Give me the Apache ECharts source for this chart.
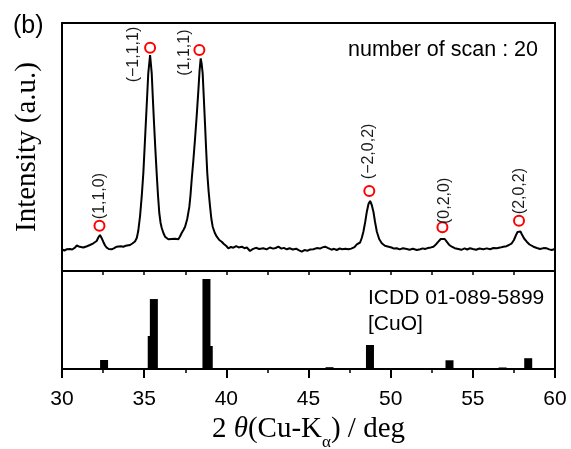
<!DOCTYPE html>
<html>
<head>
<meta charset="utf-8">
<script src="https://cdn.jsdelivr.net/npm/echarts@6/dist/echarts.min.js"></script>
<style>
  html, body { margin: 0; padding: 0; background: #fff; }
  #chart { width: 571px; height: 449px; }
</style>
</head>
<body>
<div id="chart"></div>
<script>
// Measured XRD scan: [2θ (deg), intensity (a.u.)]
const scanPoints = [
  [30.00, 21.5], [30.15, 20.5], [30.30, 21.8], [30.49, 22.0], [30.62, 21.5], [30.79, 23.3],
  [30.90, 25.5], [30.99, 26.7], [31.08, 24.2], [31.20, 22.7], [31.30, 23.5], [31.40, 24.3],
  [31.52, 24.8], [31.60, 24.0], [31.70, 26.0], [31.81, 26.5], [31.91, 27.7], [32.01, 28.5],
  [32.11, 30.0], [32.21, 33.5], [32.31, 36.0], [32.41, 33.0], [32.51, 29.3], [32.62, 25.5],
  [32.72, 23.3], [32.85, 22.0], [33.02, 21.7], [33.15, 22.6], [33.25, 24.2], [33.33, 24.3],
  [33.45, 23.6], [33.58, 24.8], [33.73, 24.3], [33.88, 25.2], [34.00, 24.8], [34.14, 26.0],
  [34.28, 27.5], [34.44, 29.5], [34.55, 33.0], [34.64, 40.0], [34.75, 55.0], [34.85, 74.3],
  [34.95, 98.0], [35.05, 131.0], [35.15, 164.3], [35.25, 197.7], [35.36, 216.0], [35.46, 197.7],
  [35.53, 172.0], [35.60, 148.0], [35.68, 122.0], [35.76, 98.0], [35.84, 76.0], [35.92, 58.0],
  [36.00, 48.0], [36.07, 43.0], [36.17, 38.0], [36.27, 34.3], [36.37, 32.5], [36.47, 31.7],
  [36.57, 32.6], [36.67, 32.0], [36.77, 32.7], [36.87, 32.2], [36.97, 33.0], [37.08, 31.7],
  [37.18, 34.5], [37.29, 38.3], [37.39, 41.0], [37.49, 44.3], [37.62, 52.0], [37.75, 64.3],
  [37.82, 76.0], [37.89, 91.0], [37.99, 110.0], [38.09, 131.0], [38.20, 156.0], [38.30, 181.0],
  [38.37, 200.0], [38.44, 212.7], [38.50, 207.0], [38.56, 197.7], [38.63, 173.0], [38.70, 148.0],
  [38.77, 122.0], [38.84, 98.0], [38.92, 80.0], [39.01, 64.3], [39.09, 52.0], [39.17, 44.3],
  [39.30, 38.0], [39.42, 34.3], [39.57, 31.0], [39.72, 29.3], [39.85, 27.0], [40.00, 25.0],
  [40.12, 22.7], [40.28, 24.0], [40.43, 23.3], [40.60, 24.8], [40.75, 23.6], [40.94, 24.3],
  [41.10, 22.8], [41.25, 23.5], [41.44, 20.0], [41.60, 21.8], [41.80, 23.2], [42.00, 22.0],
  [42.25, 22.7], [42.45, 21.6], [42.65, 23.5], [42.85, 22.4], [43.00, 23.0], [43.17, 24.3],
  [43.35, 22.4], [43.50, 23.1], [43.68, 21.7], [43.85, 22.8], [44.05, 21.5], [44.25, 22.3],
  [44.40, 20.8], [44.59, 19.3], [44.75, 20.9], [44.95, 20.3], [45.10, 21.5], [45.30, 21.7],
  [45.50, 22.9], [45.70, 22.4], [45.85, 23.6], [46.01, 24.3], [46.20, 22.8], [46.40, 21.3],
  [46.55, 22.2], [46.72, 21.0], [46.90, 22.5], [47.05, 21.8], [47.25, 22.3], [47.43, 21.7],
  [47.60, 22.4], [47.80, 23.9], [47.94, 26.7], [48.05, 27.5], [48.14, 28.5], [48.24, 33.0],
  [48.34, 39.3], [48.45, 49.0], [48.55, 59.3], [48.65, 67.0], [48.75, 70.0], [48.85, 66.0],
  [48.95, 59.3], [49.05, 49.0], [49.16, 39.3], [49.30, 32.0], [49.46, 27.7], [49.65, 25.2],
  [49.87, 24.3], [50.05, 23.5], [50.20, 22.4], [50.37, 22.7], [50.55, 21.6], [50.75, 22.8],
  [50.98, 22.0], [51.15, 21.3], [51.35, 22.2], [51.59, 21.0], [51.80, 21.8], [51.95, 22.6],
  [52.09, 22.0], [52.25, 22.9], [52.45, 23.6], [52.60, 24.3], [52.75, 26.5], [52.90, 29.3],
  [53.05, 32.0], [53.17, 33.3], [53.29, 32.0], [53.41, 29.3], [53.55, 26.3], [53.72, 24.3],
  [53.90, 22.8], [54.12, 22.0], [54.30, 21.2], [54.50, 22.6], [54.65, 21.5], [54.83, 22.7],
  [55.00, 22.0], [55.20, 21.2], [55.40, 22.5], [55.64, 21.7], [55.85, 22.6], [56.05, 21.8],
  [56.25, 23.0], [56.46, 22.7], [56.65, 23.4], [56.86, 24.3], [57.05, 24.8], [57.20, 26.0],
  [57.37, 27.7], [57.50, 31.0], [57.63, 36.0], [57.72, 39.0], [57.81, 41.0], [57.90, 39.5],
  [57.98, 36.7], [58.12, 32.5], [58.28, 29.3], [58.45, 26.5], [58.69, 24.3], [58.90, 23.0],
  [59.09, 22.0], [59.30, 22.9], [59.50, 22.7], [59.65, 21.6], [59.80, 21.0], [60.00, 22.0]
];

// Indexed CuO reflections marked on the scan
const peakAngles = [32.28, 35.36, 38.36, 48.70, 53.15, 57.81];
const peakMarkLevels = [45.3, 223.3, 221.0, 80.0, 43.7, 50.3];
const peakIndices = ['(1,1,0)', '(\u22121,1,1)', '(1,1,1)', '(\u22122,0,2)', '(0,2,0)', '(2,0,2)'];

// Reference pattern ICDD 01-089-5899 (relative intensities)
const refAngles = [32.56, 35.46, 35.59, 38.79, 38.93, 46.28, 48.74, 53.58, 56.81, 58.37];
const refIntensities = [10, 36.7, 77.8, 100, 25.6, 2, 26.7, 9.7, 1.7, 12];

// Axis range and tick spacing
const angleRange = [30, 60];
const majorStep = 5;
const frameStep = 2.5;

// Label anchor of each index, relative to its circle's box
const labelAnchors = [[6.5, -0.5], [-10.5, 40.6], [-8.8, 31.7], [5.7, -5.8], [8.5, 2.7], [6.5, -0.5]];

const SANS = '"Liberation Sans", Arial, sans-serif';
const SERIF = '"Liberation Serif", "Times New Roman", serif';

const chart = echarts.init(document.getElementById('chart'), null, { renderer: 'canvas' });

const markerData = peakAngles.map((a, i) => ({
  value: [a, peakMarkLevels[i]],
  name: peakIndices[i],
  label: { position: labelAnchors[i] }
}));

const barData = refAngles.map((a, i) => [a, refIntensities[i]]);

const option = {
  animation: false,
  backgroundColor: '#fff',
  grid: [
    { left: 62, top: 23, width: 493, height: 248, show: true, borderColor: '#000', borderWidth: 2,
      backgroundColor: 'rgba(0,0,0,0)', outerBoundsMode: 'none', containLabel: false },
    { left: 62, top: 271, width: 493, height: 98, show: true, borderColor: '#000', borderWidth: 2,
      backgroundColor: 'rgba(0,0,0,0)', outerBoundsMode: 'none', containLabel: false }
  ],
  xAxis: [
    { gridIndex: 0, type: 'value', min: angleRange[0], max: angleRange[1], show: false },
    {
      gridIndex: 1, type: 'value', min: angleRange[0], max: angleRange[1], interval: majorStep,
      position: 'bottom',
      axisLine: { show: true, onZero: false, lineStyle: { color: '#000', width: 2 } },
      axisTick: { show: true, inside: false, length: 9, lineStyle: { color: '#000', width: 2 } },
      minorTick: { show: true, splitNumber: 2, length: 4, lineStyle: { color: '#000', width: 1.5 } },
      axisLabel: { show: true, margin: 20, color: '#000', fontSize: 21, fontFamily: SANS },
      splitLine: { show: false },
      minorSplitLine: { show: false },
      name: '{n|2 }{i|\u03b8}{n|(Cu-K}{s|\u03b1}{n|) / deg}',
      nameLocation: 'middle',
      nameGap: 46,
      nameTextStyle: {
        color: '#000', fontFamily: SERIF, fontSize: 29,
        rich: {
          n: { fontFamily: SERIF, fontSize: 29, lineHeight: 29, verticalAlign: 'top', color: '#000' },
          i: { fontFamily: SERIF, fontSize: 29, lineHeight: 29, verticalAlign: 'top', fontStyle: 'italic', color: '#000' },
          s: { fontFamily: SERIF, fontSize: 17, lineHeight: 17, verticalAlign: 'top', padding: [19, 0, 0, 0], color: '#000' }
        }
      }
    },
    {
      gridIndex: 1, type: 'value', min: angleRange[0], max: angleRange[1], interval: frameStep,
      position: 'top',
      axisLine: { show: false, onZero: false },
      axisTick: { show: true, inside: true, length: 4, lineStyle: { color: '#000', width: 1.5 } },
      axisLabel: { show: false },
      splitLine: { show: false }
    }
  ],
  yAxis: [
    {
      gridIndex: 0, type: 'value', min: 0, max: 248,
      axisLine: { show: false }, axisTick: { show: false }, axisLabel: { show: false },
      splitLine: { show: false },
      name: 'Intensity (a.u.)', nameLocation: 'middle', nameRotate: 90, nameGap: 20,
      nameTextStyle: { fontFamily: SERIF, fontSize: 29, color: '#000' }
    },
    { gridIndex: 1, type: 'value', min: 0, max: 109, show: false }
  ],
  series: [
    {
      type: 'line', xAxisIndex: 0, yAxisIndex: 0, data: scanPoints,
      showSymbol: false, symbol: 'none', silent: true, clip: true,
      lineStyle: { color: '#000', width: 2 }
    },
    {
      type: 'scatter', xAxisIndex: 0, yAxisIndex: 0, data: markerData,
      symbol: 'circle', symbolSize: 10, silent: true,
      itemStyle: { color: 'rgba(0,0,0,0)', borderColor: '#ff0000', borderWidth: 2, opacity: 1 },
      label: {
        show: true, formatter: '{b}', rotate: 90, align: 'left', verticalAlign: 'middle',
        fontFamily: SANS, fontSize: 16, color: '#1a1a1a'
      }
    },
    {
      type: 'bar', xAxisIndex: 1, yAxisIndex: 1, data: barData,
      barWidth: 8, silent: true,
      itemStyle: { color: '#000' }
    }
  ],
  graphic: [
    { type: 'text', x: 13, y: 26, silent: true,
      style: { text: '(b)', font: '25px ' + SANS, fill: '#000', align: 'left', verticalAlign: 'middle' } },
    { type: 'text', x: 348, y: 50, silent: true,
      style: { text: 'number of scan : 20', font: '21.5px ' + SANS, fill: '#000', align: 'left', verticalAlign: 'middle' } },
    { type: 'text', x: 368, y: 298.5, silent: true,
      style: { text: 'ICDD 01-089-5899', font: '21px ' + SANS, fill: '#000', align: 'left', verticalAlign: 'middle' } },
    { type: 'text', x: 368, y: 324, silent: true,
      style: { text: '[CuO]', font: '21px ' + SANS, fill: '#000', align: 'left', verticalAlign: 'middle' } }
  ]
};

chart.setOption(option);
</script>
</body>
</html>
